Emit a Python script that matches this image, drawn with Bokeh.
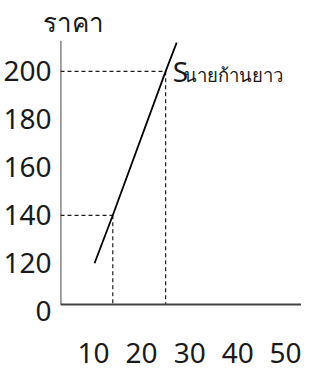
from bokeh.plotting import figure
from bokeh.models import Range1d, FixedTicker, ColumnDataSource
from bokeh.core.properties import value
from bokeh.embed import file_html
from bokeh.resources import INLINE

# ---- data ----
x_ticks = [10, 20, 30, 40, 50]
x_tick_labels = ["10", "20", "30", "40", "50"]
y_ticks = [100, 120, 140, 160, 180, 200]
y_tick_labels = ["0", "120", "140", "160", "180", "200"]
supply_q = [10.2, 14, 25, 27.3]
supply_p = [120, 140, 200, 212]
marked_q = [14, 25]
marked_p = [140, 200]
curve_name = "S"
curve_owner = "นายก้านยาว"
y_title = "ราคา"

# axis placement (schematic diagram with a broken price axis)
x_origin = 3.11
x_end = 53.29
y_origin = 102.73
y_start, y_end = 75.31, 212.86

FONT = "Noto Sans"
INK = "#1a1a1a"

p = figure(width=301, height=370, x_range=Range1d(x_origin, x_end),
           y_range=Range1d(y_start, y_end), title=y_title,
           toolbar_location=None, output_backend="svg",
           min_border_left=57, min_border_right=0, min_border_top=33,
           min_border_bottom=0)
p.outline_line_color = None
p.grid.visible = False
p.background_fill_color = "white"

p.title.text_font = FONT
p.title.text_font_size = "26px"
p.title.text_font_style = "normal"
p.title.text_color = INK
p.title.align = "left"
p.title.offset = -18
p.title.standoff = 2

xa, ya = p.xaxis[0], p.yaxis[0]
xa.fixed_location = y_origin
xa.axis_line_color = "#444444"
xa.axis_line_width = 1.8
ya.axis_line_color = None

for ax, ticks, labels, standoff in ((xa, x_ticks, x_tick_labels, 38),
                                    (ya, y_ticks, y_tick_labels, 9)):
    ax.ticker = FixedTicker(ticks=ticks)
    ax.major_label_overrides = {t: l for t, l in zip(ticks, labels)}
    ax.major_tick_line_color = None
    ax.minor_tick_line_color = None
    ax.major_tick_out = 0
    ax.major_tick_in = 0
    ax.major_label_standoff = standoff
    ax.major_label_text_font = FONT
    ax.major_label_text_font_size = "28px"
    ax.major_label_text_color = INK

# price axis line (starts at the quantity axis, above the broken "0")
p.line([x_origin, x_origin], [y_origin, y_end], line_color="#333333", line_width=1.8)

# dashed guides
guides = ColumnDataSource(dict(
    x0=[x_origin] * len(marked_q) + marked_q,
    y0=marked_p + marked_p,
    x1=marked_q + marked_q,
    y1=marked_p + [y_origin] * len(marked_q),
))
p.segment("x0", "y0", "x1", "y1", source=guides, line_color=INK,
          line_width=1.2, line_dash="4 3")

# supply curve
p.line(supply_q, supply_p, line_color="black", line_width=1.8)

# curve label
p.text(x=[marked_q[-1]], y=[marked_p[-1]], text=[curve_name], x_offset=7,
       text_baseline="middle", text_font=value(FONT), text_font_size="28px",
       text_color=INK)
p.text(x=[marked_q[-1]], y=[marked_p[-1]], text=[curve_owner], x_offset=18,
       y_offset=3, text_baseline="alphabetic", text_font=value(FONT),
       text_font_size="18.5px", text_color=INK)

open("out.html", "w").write(file_html(p, INLINE))
